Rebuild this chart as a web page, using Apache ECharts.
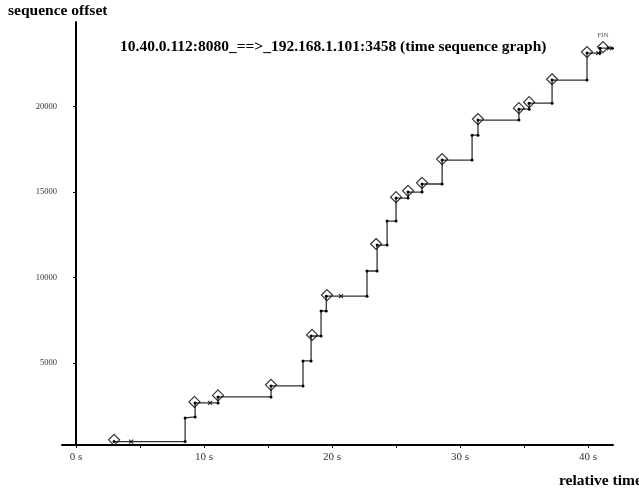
<!DOCTYPE html>
<html>
<head>
<meta charset="utf-8">
<script src="https://cdn.jsdelivr.net/npm/echarts@6/dist/echarts.min.js"></script>
<style>
  html, body { margin: 0; padding: 0; background: #fff; }
  #main { width: 639px; height: 490px; }
</style>
</head>
<body>
<div id="main"></div>
<script>
// staircase of the sequence numbers (corners of the trace)
var seqTime = [2.97, 8.52, 8.52, 9.30, 9.30, 11.09, 11.09, 15.23, 15.23, 17.73, 17.73, 18.36, 18.36, 19.14, 19.14, 19.55, 19.55,
    22.73, 22.73, 23.52, 23.52, 24.30, 24.30, 25.00, 25.00, 25.94, 25.94, 27.03, 27.03, 28.60, 28.60, 30.94, 30.94, 31.40, 31.40,
    34.60, 34.60, 35.40, 35.40, 37.19, 37.19, 39.92, 39.92, 40.94, 40.94, 41.90];
var seqOffset = [400, 400, 1784, 1842, 2661, 2661, 3012, 3012, 3655, 3655, 5117, 5117, 6579, 6579, 8041, 8041, 8910,
    8910, 10380, 10380, 11900, 11900, 13300, 13300, 14650, 14650, 15000, 15000, 15470, 15470, 16870, 16870, 18330, 18330, 19210,
    19210, 19850, 19850, 20200, 20200, 21550, 21550, 23130, 23130, 23420, 23420];

// diamond markers
var pshTime = [2.97, 9.25, 11.09, 15.23, 18.44, 19.60, 23.44, 25.00, 25.94, 27.03, 28.60, 31.40, 34.60, 35.40, 37.19, 39.92, 41.17];
var pshOffset = [500, 2720, 3100, 3720, 6640, 8970, 11960, 14700, 15070, 15540, 16930, 19270, 19910, 20260, 21600, 23190, 23480];

// small x markers
var ackTime = [4.30, 10.47, 20.70, 40.80, 41.64];
var ackOffset = [400, 2661, 8910, 23130, 23420];

var yLabels = [5000, 10000, 15000, 20000];
var xLabels = [0, 10, 20, 30, 40];
var xTicks = [0, 5, 10, 15, 20, 25, 30, 35, 40];

var serif = '"Liberation Serif", "DejaVu Serif", serif';

function pairs(a, b) {
    var out = [];
    for (var i = 0; i < a.length; i++) out.push([a[i], b[i]]);
    return out;
}

var pshData = pairs(pshTime, pshOffset);
pshData[pshData.length - 1] = {
    value: pshData[pshData.length - 1],
    label: { show: true, formatter: 'FIN', position: 'top', distance: 2, fontSize: 7, fontFamily: serif, color: '#222' }
};

var chart = echarts.init(document.getElementById('main'));
chart.setOption({
    animation: false,
    backgroundColor: '#fff',
    title: {
        text: '10.40.0.112:8080_==>_192.168.1.101:3458 (time sequence graph)',
        left: 115,
        top: 34,
        textStyle: { fontFamily: serif, fontWeight: 'bold', fontSize: 15.5, color: '#000' }
    },
    grid: { left: 62, right: 26, top: 22, bottom: 45 },
    xAxis: {
        type: 'value',
        min: -1.1,
        max: 41.95,
        axisLine: { lineStyle: { color: '#000', width: 2 } },
        axisTick: { customValues: xTicks, length: 3, lineStyle: { color: '#000' } },
        axisLabel: {
            customValues: xLabels,
            formatter: '{value} s',
            margin: 7,
            fontSize: 11,
            fontFamily: serif,
            color: '#333'
        },
        splitLine: { show: false }
    },
    yAxis: {
        type: 'value',
        min: 200,
        max: 24950,
        axisLine: { show: true, lineStyle: { color: '#000', width: 2 } },
        axisTick: { show: true, customValues: yLabels, length: 3, lineStyle: { color: '#000' } },
        axisLabel: {
            customValues: yLabels,
            formatter: function (v) { return String(v); },
            margin: 5,
            fontSize: 8.5,
            fontFamily: serif,
            color: '#333'
        },
        splitLine: { show: false }
    },
    graphic: [
        { type: 'text', left: 8, top: 3, style: { text: 'sequence offset', font: 'bold 15.5px ' + serif, fill: '#000' } },
        { type: 'text', left: 559, top: 473, style: { text: 'relative time', font: 'bold 15.5px ' + serif, fill: '#000' } }
    ],
    series: [
        {
            type: 'line',
            data: pairs(seqTime, seqOffset),
            symbol: 'circle',
            symbolSize: 3,
            showAllSymbol: true,
            lineStyle: { color: '#333', width: 1.3 },
            itemStyle: { color: '#000' },
            z: 2
        },
        {
            type: 'scatter',
            data: pshData,
            symbol: 'diamond',
            symbolSize: 11,
            itemStyle: { color: 'rgba(255,255,255,0)', borderColor: '#000', borderWidth: 1.2 },
            z: 3
        },
        {
            type: 'scatter',
            data: pairs(ackTime, ackOffset),
            symbol: 'path://M0,0L10,10M10,0L0,10',
            symbolSize: 4,
            itemStyle: { color: 'none', borderColor: '#000', borderWidth: 1.2 },
            z: 3
        }
    ]
});
</script>
</body>
</html>
